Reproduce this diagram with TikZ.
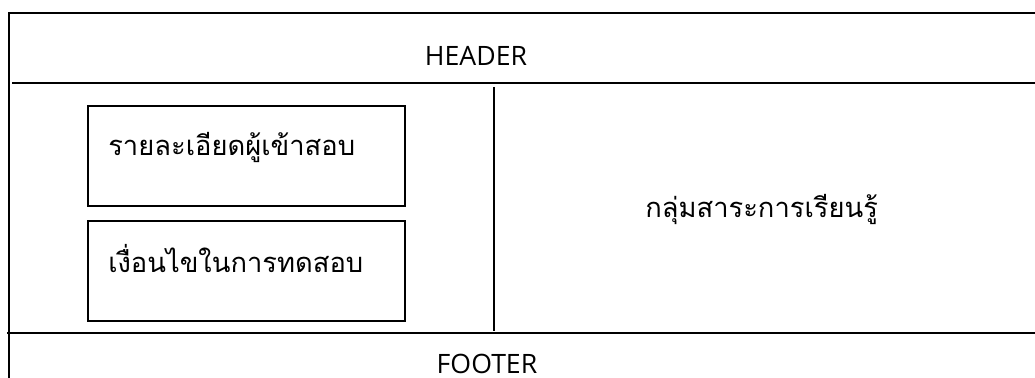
\documentclass[tikz,border=0pt]{standalone}
\usepackage{fontspec}
\setmainfont{Open Sans}
\newfontfamily\thaifont[Script=Thai]{Loma}
\begin{document}
\begin{tikzpicture}[x=0.75pt, y=-0.75pt,
    frame/.style={line width=1.5pt},
    panel/.style={draw, line width=1.2pt, anchor=north west, inner sep=0pt,
                  minimum width=237.75pt, minimum height=75pt},
    latin/.style={inner sep=0pt, font=\fontsize{20}{24}\selectfont},
    thai/.style={inner sep=0pt, anchor=base west, font=\thaifont\fontsize{20.5}{25}\selectfont}]
    \useasboundingbox (0,0) rectangle (1035,378);

    % Page frame
    \draw[frame] (9,378) -- (9,13) -- (1035,13);
    \draw[frame] (12,83) -- (1035,83);
    \draw[frame] (7,333) -- (1035,333);
    \draw[line width=1.2pt] (494,87) -- (494,331);

    % Header and footer
    \node[latin] (header) at (476,56) {HEADER};
    \node[latin] (footer) at (487,364) {FOOTER};

    % Left panels
    \node[panel] (detailbox) at (87,105) {};
    \node[panel] (rulebox) at (87,220) {};
    \node[thai] (detail) at (108,155) {รายละเอียดผู้เข้าสอบ};
    \node[thai] (rules) at (108,272) {เงื่อนไขในการทดสอบ};

    % Right area
    \node[thai] (subject) at (645,217) {กลุ่มสาระการเรียนรู้};
\end{tikzpicture}
\end{document}
